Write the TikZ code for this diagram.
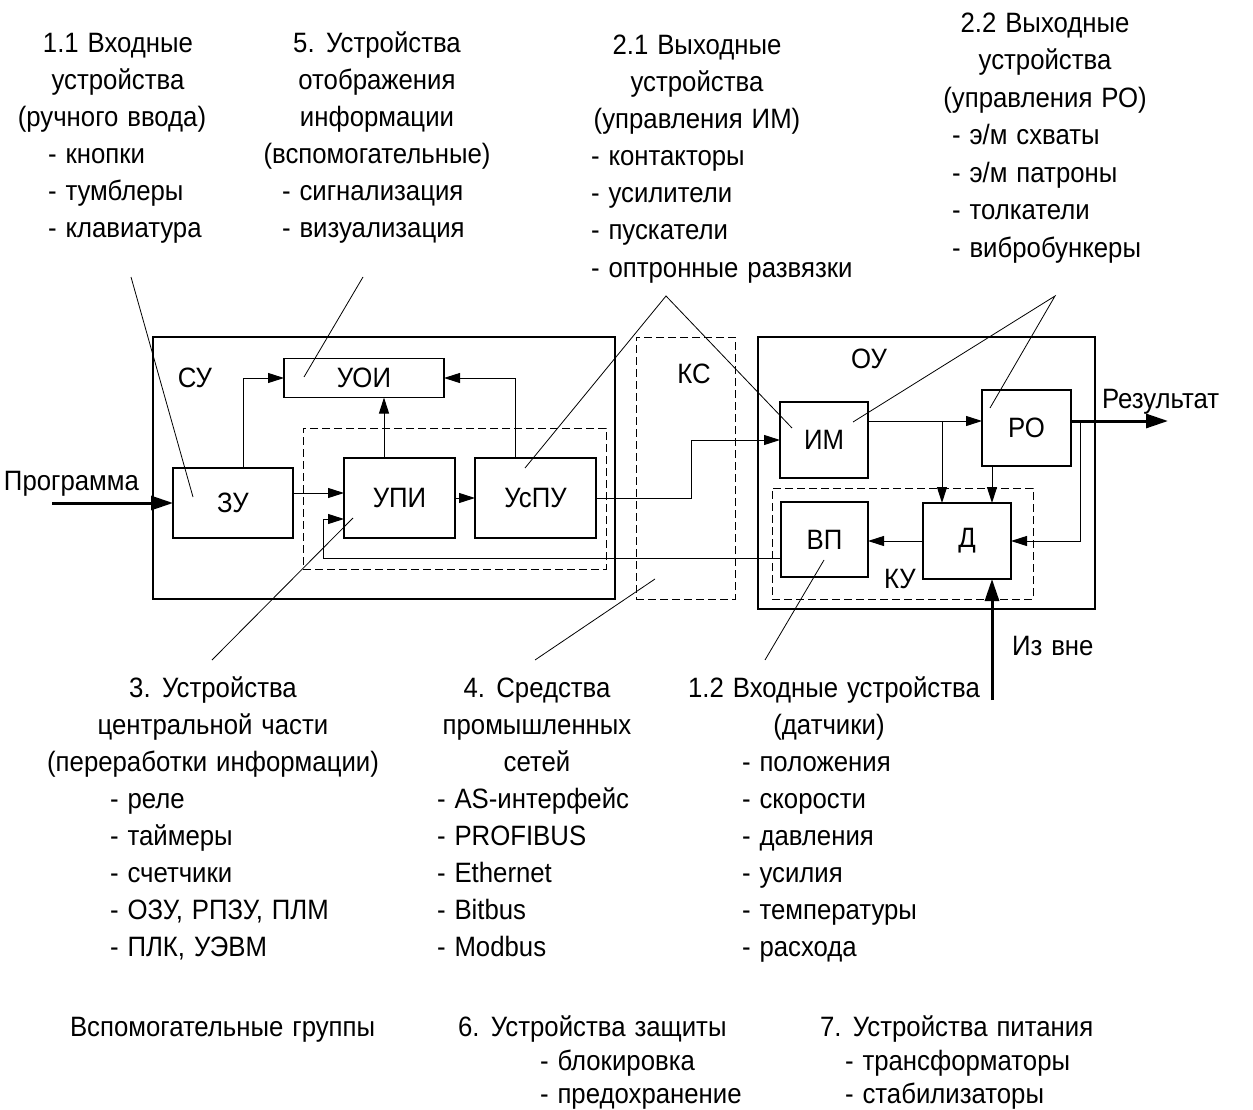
\documentclass[tikz,border=0pt]{standalone}
\usepackage{fontspec}
\setmainfont{Liberation Sans}[FakeStretch=0.92, WordSpace=1.25]
\usetikzlibrary{arrows.meta}
\begin{document}
\begin{tikzpicture}[x=1pt,y=-1pt,
  every node/.style={font=\fontsize{28}{37}\selectfont, inner sep=0pt, outer sep=0pt},
  tc/.style={anchor=base},
  tl/.style={anchor=base west},
  blk/.style={draw, line width=1.1pt},
  dbox/.style={draw, line width=1pt, dash pattern=on 8pt off 4pt},
  conn/.style={line width=1pt, -{Triangle[length=16pt,width=10pt]}},
  bold/.style={line width=3pt, -{Triangle[length=22pt,width=14pt]}},
  lead/.style={line width=0.8pt}]
\useasboundingbox (0,0) rectangle (1253,1110);

% ---------- top text groups ----------
\node[tc] (a1) at (118,53) {1.1 Входные};
\node[tc] (a2) at (118,90) {устройства};
\node[tc] (a3) at (112,127) {(ручного ввода)};
\node[tl] (a4) at (48,164) {- кнопки};
\node[tl] (a5) at (48,201) {- тумблеры};
\node[tl] (a6) at (48,238) {- клавиатура};

\node[tc] (b1) at (377,53) {5. Устройства};
\node[tc] (b2) at (377,90) {отображения};
\node[tc] (b3) at (377,127) {информации};
\node[tc] (b4) at (377,164) {(вспомогательные)};
\node[tl] (b5) at (282,201) {- сигнализация};
\node[tl] (b6) at (282,238) {- визуализация};

\node[tc] (c1) at (697,55) {2.1 Выходные};
\node[tc] (c2) at (697,92) {устройства};
\node[tc] (c3) at (697,129) {(управления ИМ)};
\node[tl] (c4) at (591,166) {- контакторы};
\node[tl] (c5) at (591,203) {- усилители};
\node[tl] (c6) at (591,240) {- пускатели};
\node[tl] (c7) at (591,277) {- оптронные развязки};

\node[tc] (e1) at (1045,33) {2.2 Выходные};
\node[tc] (e2) at (1045,70) {устройства};
\node[tc] (e3) at (1045,108) {(управления РО)};
\node[tl] (e4) at (952,145) {- э/м схваты};
\node[tl] (e5) at (952,183) {- э/м патроны};
\node[tl] (e6) at (952,220) {- толкатели};
\node[tl] (e7) at (952,258) {- вибробункеры};

% ---------- blocks ----------
\node[blk, minimum width=462pt, minimum height=262pt] (su) at (384,468) {};
\node[dbox, minimum width=303pt, minimum height=141pt] (grp) at (454.5,498.5) {};
\node[dbox, minimum width=99pt, minimum height=262pt] (ks) at (685.5,468) {};
\node[blk, minimum width=337pt, minimum height=272pt] (ou) at (926.5,473) {};
\node[dbox, minimum width=261pt, minimum height=111pt] (ku) at (902.5,543.5) {};

\node[blk, minimum width=160pt, minimum height=39pt] (uoi) at (364,378) {УОИ};
\node[blk, minimum width=120pt, minimum height=70pt] (zu) at (233,503) {ЗУ};
\node[blk, minimum width=111pt, minimum height=80pt] (upi) at (399.5,498) {УПИ};
\node[blk, minimum width=121pt, minimum height=80pt] (uspu) at (535.5,498) {УсПУ};
\node[blk, minimum width=88pt, minimum height=76pt] (im) at (824,440) {ИМ};
\node[blk, minimum width=89pt, minimum height=76pt] (ro) at (1026.5,428) {РО};
\node[blk, minimum width=87pt, minimum height=75pt] (vp) at (824.5,539.5) {ВП};
\node[blk, minimum width=88pt, minimum height=76pt] (d) at (967,541) {Д};

\node[tc] (lsu) at (195,387) {СУ};
\node[tc] (lks) at (694,383) {КС};
\node[tc] (lou) at (869,368) {ОУ};
\node[tc] (lku) at (900,588) {КУ};
\node[tl] (lprog) at (4,490) {Программа};
\node[tl] (lres) at (1102,408) {Результат};
\node[tl] (lext) at (1012,655) {Из вне};

% ---------- connectors ----------
\coordinate (pin) at (52,503);
\draw[bold] (pin) -- (zu.west);
\draw[conn] ([yshift=10pt]zu.east) -- ([yshift=5pt]upi.west);
\draw[conn] (upi.east) -- (uspu.west);
\coordinate (z1) at ([xshift=10pt]zu.north);
\draw[conn] (z1) |- (uoi.west);
\coordinate (u1) at ([xshift=-15.5pt]upi.north);
\draw[conn] (u1) -- (u1 |- uoi.south);
\coordinate (s1) at ([xshift=-20.5pt]uspu.north);
\draw[conn] (s1) |- (uoi.east);
\coordinate (k1) at (691,498);
\draw[conn] (uspu.east) -- (k1) |- (im.west);
\coordinate (fb1) at ([yshift=-18.5pt]vp.west);
\coordinate (fb2) at ([yshift=-21pt]upi.west);
\coordinate (fb3) at (323,558);
\draw[conn] (fb1) -- (fb3) |- (fb2);

\coordinate (i1) at ([yshift=19pt]im.east);
\draw[conn] (i1) -- ([yshift=7pt]ro.west);
\coordinate (d1) at ([xshift=-25pt]d.north);
\coordinate (br) at (942,421);
\draw[conn] (br) -- (d1);
\draw[conn] ([xshift=-34.5pt]ro.south) -- ([xshift=25pt]d.north);
\coordinate (re) at ([yshift=7pt]ro.east);
\coordinate (res) at (1168,421);
\draw[bold] (re) -- (res);
\coordinate (lp) at (1080,421);
\draw[conn] (re) -- (lp) |- (d.east);
\draw[conn] (d.west) -- (d.west -| vp.east);
\coordinate (ext) at (992,700);
\draw[bold] (ext) -- (ext |- d.south);

% ---------- leader lines ----------
\coordinate (p11) at (131,277);
\coordinate (q11) at (193,497);
\draw[lead] (p11) -- (q11);
\coordinate (p5) at (363,277);
\coordinate (q5) at (304,377);
\draw[lead] (p5) -- (q5);
\coordinate (p21) at (666,296);
\coordinate (q21a) at (525,468);
\coordinate (q21b) at (792,428);
\draw[lead] (q21a) -- (p21) -- (q21b);
\coordinate (p22) at (1055,296);
\coordinate (q22a) at (853,422);
\coordinate (q22b) at (990,408);
\draw[lead] (q22a) -- (p22) -- (q22b);
\coordinate (p3) at (212,660);
\coordinate (q3) at (353,518);
\draw[lead] (p3) -- (q3);
\coordinate (p4) at (535,660);
\coordinate (q4) at (655,579);
\draw[lead] (p4) -- (q4);
\coordinate (p12) at (765,660);
\coordinate (q12) at (824,560);
\draw[lead] (p12) -- (q12);

% ---------- bottom text groups ----------
\node[tc] (f1) at (213,697) {3. Устройства};
\node[tc] (f2) at (213,734) {центральной части};
\node[tc] (f3) at (213,771) {(переработки информации)};
\node[tl] (f4) at (110,808) {- реле};
\node[tl] (f5) at (110,845) {- таймеры};
\node[tl] (f6) at (110,882) {- счетчики};
\node[tl] (f7) at (110,919) {- ОЗУ, РПЗУ, ПЛМ};
\node[tl] (f8) at (110,956) {- ПЛК, УЭВМ};

\node[tc] (g1) at (537,697) {4. Средства};
\node[tc] (g2) at (537,734) {промышленных};
\node[tc] (g3) at (537,771) {сетей};
\node[tl] (g4) at (437,808) {- AS-интерфейс};
\node[tl] (g5) at (437,845) {- PROFIBUS};
\node[tl] (g6) at (437,882) {- Ethernet};
\node[tl] (g7) at (437,919) {- Bitbus};
\node[tl] (g8) at (437,956) {- Modbus};

\node[tc] (h1) at (834,697) {1.2 Входные устройства};
\node[tc] (h2) at (829,734) {(датчики)};
\node[tl] (h3) at (742,771) {- положения};
\node[tl] (h4) at (742,808) {- скорости};
\node[tl] (h5) at (742,845) {- давления};
\node[tl] (h6) at (742,882) {- усилия};
\node[tl] (h7) at (742,919) {- температуры};
\node[tl] (h8) at (742,956) {- расхода};

\node[tl] (v1) at (70,1036) {Вспомогательные группы};
\node[tl] (w1) at (458,1036) {6. Устройства защиты};
\node[tl] (w2) at (540,1070) {- блокировка};
\node[tl] (w3) at (540,1103) {- предохранение};
\node[tl] (x1) at (820,1036) {7. Устройства питания};
\node[tl] (x2) at (845,1070) {- трансформаторы};
\node[tl] (x3) at (845,1103) {- стабилизаторы};
\end{tikzpicture}
\end{document}
